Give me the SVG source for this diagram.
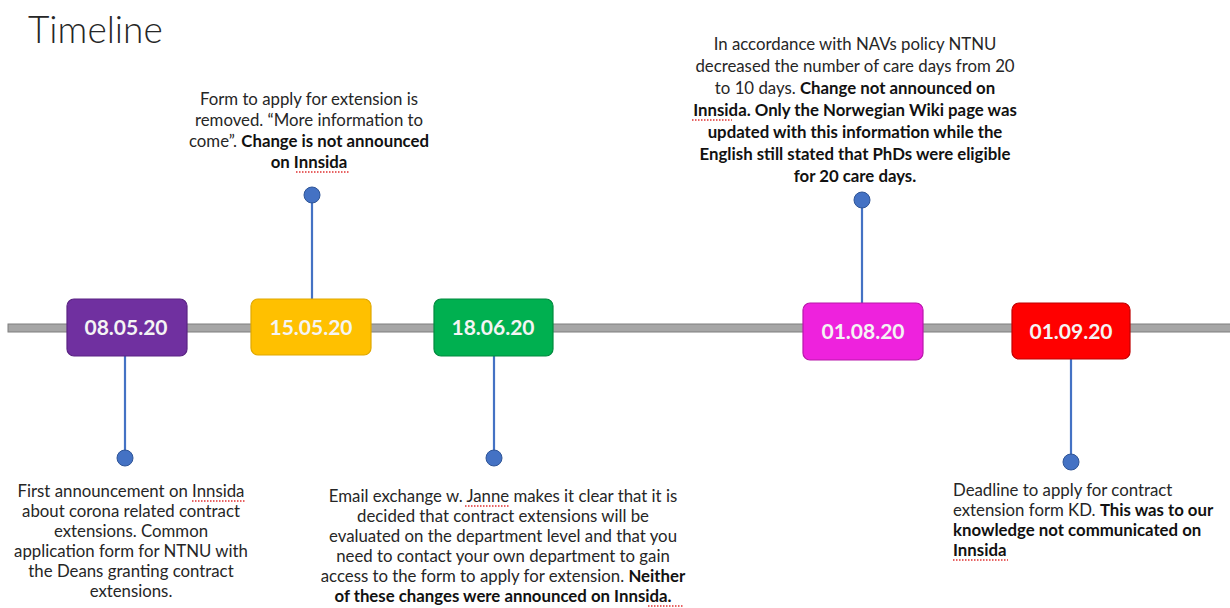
<svg xmlns="http://www.w3.org/2000/svg" width="1230" height="608" viewBox="0 0 1230 608">
<style>
.t{font-family:Lato,"Liberation Sans",sans-serif;font-size:16.8px;fill:#262626}
.c{text-anchor:middle}
.b{font-weight:bold;fill:#111}
.d{font-family:Lato,"Liberation Sans",sans-serif;font-size:21px;font-weight:bold;fill:#f4f4f4;text-anchor:middle}
.box{stroke-width:1.2}
.con{stroke:#4472C4;stroke-width:2.2;fill:none}
.dot{fill:#4472C4;stroke:#2f5597;stroke-width:1}
.sq{stroke:#e03030;stroke-width:1.3;stroke-dasharray:1.5 1.5;fill:none}
</style>
<rect width="1230" height="608" fill="#fff"/>
<text x="28" y="43" font-family="Lato,'Liberation Sans',sans-serif" font-size="37" font-weight="300" fill="#262626">Timeline</text>
<g id="bar">
<rect x="8" y="324" width="1224" height="8" fill="#a6a6a6" stroke="#7f7f7f" stroke-width="1"/>
</g>
<g id="connectors">
<line class="con" x1="125" y1="356" x2="125" y2="458"/>
<circle class="dot" cx="125" cy="458" r="8"/>
<line class="con" x1="312" y1="195" x2="312" y2="299"/>
<circle class="dot" cx="312" cy="195" r="8"/>
<line class="con" x1="494" y1="356" x2="494" y2="458"/>
<circle class="dot" cx="494" cy="458" r="8"/>
<line class="con" x1="862" y1="200" x2="862" y2="303"/>
<circle class="dot" cx="862" cy="200" r="8"/>
<line class="con" x1="1071" y1="359" x2="1071" y2="462"/>
<circle class="dot" cx="1071" cy="462" r="8"/>
</g>
<g id="n1">
<rect class="box" x="67" y="299" width="120" height="57" rx="7" fill="#7030A0" stroke="#5a2383"/>
<text class="d" x="126" y="335">08.05.20</text>
</g>
<g id="n2">
<rect class="box" x="251" y="299" width="120" height="56" rx="7" fill="#FFC000" stroke="#e0a800"/>
<text class="d" x="311" y="335">15.05.20</text>
</g>
<g id="n3">
<rect class="box" x="434" y="299" width="119" height="57" rx="7" fill="#00B050" stroke="#008a3e"/>
<text class="d" x="493" y="335">18.06.20</text>
</g>
<g id="n4">
<rect class="box" x="803" y="303" width="120" height="57" rx="7" fill="#EE22DD" stroke="#b818aa"/>
<text class="d" x="863" y="339">01.08.20</text>
</g>
<g id="n5">
<rect class="box" x="1012" y="303" width="118" height="56" rx="7" fill="#FF0000" stroke="#c00000"/>
<text class="d" x="1071" y="339">01.09.20</text>
</g>
<g id="txt1">
<text class="t c" x="131" y="497">First announcement on Innsida</text>
<text class="t c" x="131" y="517">about corona related contract</text>
<text class="t c" x="131" y="537">extensions. Common</text>
<text class="t c" x="131" y="557">application form for NTNU with</text>
<text class="t c" x="131" y="577">the Deans granting contract</text>
<text class="t c" x="131" y="597">extensions.</text>
</g>
<g id="txt2">
<text class="t c" x="309" y="105">Form to apply for extension is</text>
<text class="t c" x="309" y="126">removed. “More information to</text>
<text class="t c" x="309" y="147">come”. <tspan class="b">Change is not announced</tspan></text>
<text class="t c" x="309" y="168"><tspan class="b">on Innsida</tspan></text>
</g>
<g id="txt3">
<text class="t c" x="503" y="502">Email exchange w. Janne makes it clear that it is</text>
<text class="t c" x="503" y="522">decided that contract extensions will be</text>
<text class="t c" x="503" y="542">evaluated on the department level and that you</text>
<text class="t c" x="503" y="562">need to contact your own department to gain</text>
<text class="t c" x="503" y="582">access to the form to apply for extension. <tspan class="b">Neither</tspan></text>
<text class="t c" x="503" y="602"><tspan class="b">of these changes were announced on Innsida.</tspan></text>
</g>
<g id="txt4">
<text class="t c" x="855" y="50">In accordance with NAVs policy NTNU</text>
<text class="t c" x="855" y="72">decreased the number of care days from 20</text>
<text class="t c" x="855" y="94">to 10 days. <tspan class="b">Change not announced on</tspan></text>
<text class="t c" x="855" y="116"><tspan class="b">Innsida. Only the Norwegian Wiki page was</tspan></text>
<text class="t c" x="855" y="138"><tspan class="b">updated with this information while the</tspan></text>
<text class="t c" x="855" y="160"><tspan class="b">English still stated that PhDs were eligible</tspan></text>
<text class="t c" x="855" y="182"><tspan class="b">for 20 care days.</tspan></text>
</g>
<g id="txt5">
<text class="t" x="953" y="496">Deadline to apply for contract</text>
<text class="t" x="953" y="516">extension form KD. <tspan class="b">This was to our</tspan></text>
<text class="t" x="953" y="536"><tspan class="b">knowledge not communicated on</tspan></text>
<text class="t" x="953" y="556"><tspan class="b">Innsida</tspan></text>
</g>
<g id="spellcheck">
<line class="sq" x1="192" y1="501" x2="246" y2="501"/>
<line class="sq" x1="296" y1="172" x2="350" y2="172"/>
<line class="sq" x1="465" y1="506" x2="510" y2="506"/>
<line class="sq" x1="648" y1="606" x2="684" y2="606"/>
<line class="sq" x1="692" y1="120" x2="732" y2="120"/>
<line class="sq" x1="953" y1="560" x2="1008" y2="560"/>
</g>
</svg>
